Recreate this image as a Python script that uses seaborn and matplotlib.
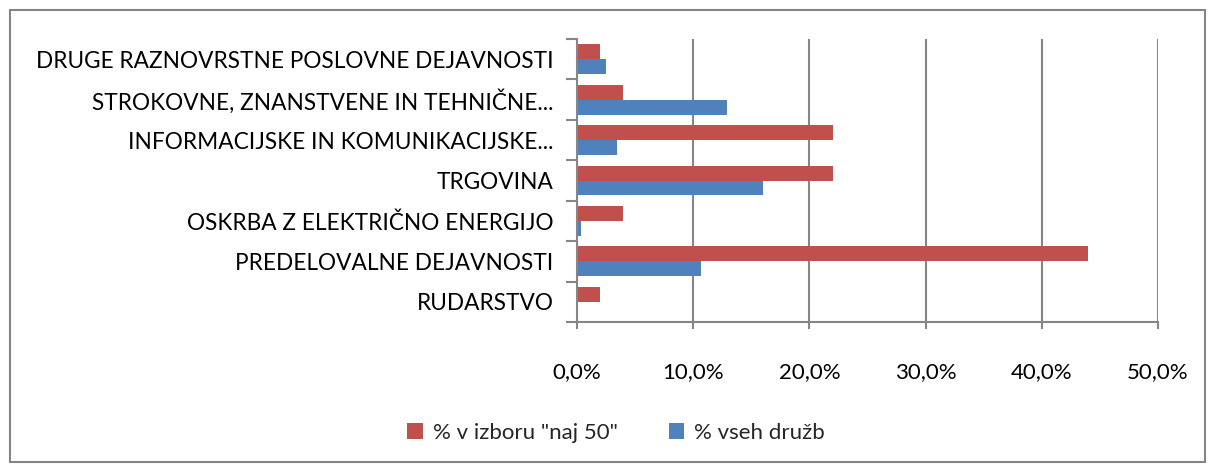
import matplotlib
matplotlib.use("Agg")
import matplotlib.pyplot as plt
import matplotlib.patches as mpatches
import pandas as pd
import seaborn as sns
from matplotlib.ticker import FuncFormatter, FixedLocator

# podatki
kategorije = [
    "DRUGE RAZNOVRSTNE POSLOVNE DEJAVNOSTI",
    "STROKOVNE, ZNANSTVENE IN TEHNIČNE...",
    "INFORMACIJSKE IN KOMUNIKACIJSKE...",
    "TRGOVINA",
    "OSKRBA Z ELEKTRIČNO ENERGIJO",
    "PREDELOVALNE DEJAVNOSTI",
    "RUDARSTVO",
]
naj50 = [2.0, 4.0, 22.0, 22.0, 4.0, 44.0, 2.0]
vse_druzbe = [2.5, 12.9, 3.45, 16.0, 0.35, 10.7, 0.1]
serije = ['% v izboru "naj 50"', "% vseh družb"]
barve = ["#C0504D", "#4F81BD"]

df = pd.DataFrame({
    "kategorija": kategorije * 2,
    "vrednost": naj50 + vse_druzbe,
    "serija": [serije[0]] * len(kategorije) + [serije[1]] * len(kategorije),
})

sns.set_style("white")
plt.rcParams["font.family"] = ["Lato", "DejaVu Sans"]

fig = plt.figure(figsize=(12.08, 4.66), dpi=100)
ax = fig.add_axes([577 / 1208, 1 - 322 / 466, 581 / 1208, 283 / 466])

sns.barplot(data=df, y="kategorija", x="vrednost", hue="serija",
            order=kategorije, hue_order=serije, palette=barve,
            width=0.74, saturation=1, linewidth=0, ax=ax, legend=True)

siva = "#868686"
ax.set_xlim(0, 50)
ax.set_ylim(len(kategorije) - 0.5, -0.5)
ax.set_xticks([0, 10, 20, 30, 40, 50])
ax.xaxis.set_major_formatter(FuncFormatter(lambda v, p: f"{v:.1f}%".replace(".", ",")))
ax.grid(axis="x", color=siva, linewidth=1.5)
ax.set_axisbelow(True)
ax.set_xlabel("")
ax.set_ylabel("")

for s in ["top", "right"]:
    ax.spines[s].set_visible(False)
for s in ["left", "bottom"]:
    ax.spines[s].set_color(siva)
    ax.spines[s].set_linewidth(1.5)

# kljukice na mejah kategorij
ax.yaxis.set_minor_locator(FixedLocator([i - 0.5 for i in range(len(kategorije) + 1)]))
ax.tick_params(axis="y", which="major", length=0, pad=17, labelsize=16.3, labelcolor="black")
ax.tick_params(axis="y", which="minor", length=8, width=1.5, color=siva, left=True)
ax.tick_params(axis="x", which="major", length=5, width=1.5, color=siva, bottom=True,
               pad=24, labelsize=16, labelcolor="black")

leg = ax.legend(loc="center", bbox_to_anchor=(616 / 1208, 1 - 433 / 466),
                bbox_transform=fig.transFigure, ncol=2, frameon=False,
                fontsize=16, handlelength=0.7, handleheight=0.7,
                columnspacing=2.3, handletextpad=0.45)

# okvir grafikona
fig.patches.append(mpatches.Rectangle((10 / 1208, 4 / 466), 1195 / 1208, 452 / 466,
                                      transform=fig.transFigure, fill=False,
                                      edgecolor=siva, linewidth=1.5))

fig.savefig("out.png", dpi=100)
